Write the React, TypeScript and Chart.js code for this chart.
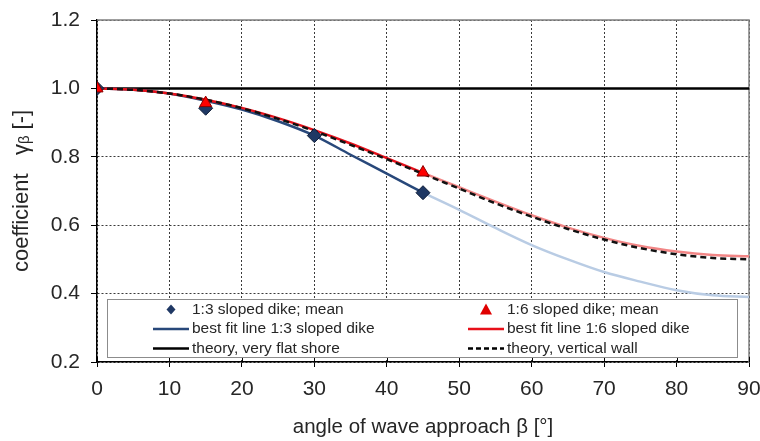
import React, { useEffect, useRef } from 'react';
import { Chart, registerables } from 'chart.js';
Chart.register(...registerables);

const xTicks = [0, 10, 20, 30, 40, 50, 60, 70, 80, 90];
const yTicks = [0.2, 0.4, 0.6, 0.8, 1.0, 1.2];

const meanAngles13 = [0, 15, 30, 45];
const meanValues13 = [1.0, 0.942, 0.862, 0.695];
const meanAngles16 = [0, 15, 45];
const meanValues16 = [1.0, 0.957, 0.754];

const fitAnglesA = [0, 5, 10, 15, 20, 25, 30, 35, 40, 45];
const fitAnglesB = [45, 50, 55, 60, 65, 70, 75, 80, 85, 90];
const fit13A = [1.0, 0.996, 0.985, 0.964, 0.938, 0.904, 0.862, 0.806, 0.751, 0.695];
const fit13B = [0.695, 0.645, 0.592, 0.542, 0.5, 0.463, 0.435, 0.41, 0.395, 0.39];
const fit16A = [1.0, 0.996, 0.985, 0.967, 0.943, 0.913, 0.878, 0.839, 0.796, 0.753];
const fit16B = [0.753, 0.711, 0.669, 0.629, 0.593, 0.563, 0.539, 0.523, 0.513, 0.509];

const wallAngles = [0, 5, 10, 15, 20, 25, 30, 35, 40, 45, 50, 55, 60, 65, 70, 75, 80, 85, 90];
const wallValues = [1.0, 0.996, 0.985, 0.967, 0.942, 0.911, 0.875, 0.835, 0.793, 0.75, 0.707, 0.664, 0.625, 0.589, 0.558, 0.533, 0.515, 0.504, 0.5];

const flatAngles = [0, 90];
const flatValues = [1.0, 1.0];

const labels = {
  mean13: '1:3 sloped dike; mean',
  mean16: '1:6 sloped dike; mean',
  fit13: 'best fit line 1:3 sloped dike',
  fit16: 'best fit line 1:6 sloped dike',
  flat: 'theory, very flat shore',
  wall: 'theory, vertical wall',
};

const xTitle = 'angle of wave approach β [°]';
const yTitle = 'coefficient   γᵦ [-]';

const FONT = "'Liberation Sans', Arial, sans-serif";
const TEXT = '#262626';
const DARK_BLUE = '#28487a';
const LIGHT_BLUE = '#b9cce4';
const RED = '#e8101a';
const LIGHT_RED = '#f28686';
const NAVY = '#1f3864';

const zip = (xs: number[], ys: number[]) => xs.map((x, i) => ({ x, y: ys[i] }));

const framePlugin = {
  id: 'frame',
  beforeDatasetsDraw(chart: any) {
    const { ctx, chartArea: a } = chart;
    ctx.save();
    ctx.strokeStyle = '#808080';
    ctx.lineWidth = 1.5;
    ctx.beginPath();
    ctx.moveTo(a.left, a.top);
    ctx.lineTo(a.right, a.top);
    ctx.lineTo(a.right, a.bottom);
    ctx.stroke();
    ctx.strokeStyle = '#000';
    ctx.lineWidth = 1;
    const xs = chart.scales.x;
    xTicks.forEach((t) => {
      const px = Math.round(xs.getPixelForValue(t)) + 0.5;
      ctx.beginPath();
      ctx.moveTo(px, a.bottom);
      ctx.lineTo(px, a.bottom - 5);
      ctx.stroke();
    });
    ctx.restore();
  },
};

const legendPlugin = {
  id: 'boxLegend',
  afterDatasetsDraw(chart: any) {
    const { ctx, chartArea: a } = chart;
    const left = a.left + 10;
    const right = a.right - 12;
    const top = a.bottom - 63;
    const bottom = a.bottom - 5;
    ctx.save();
    ctx.fillStyle = '#fff';
    ctx.fillRect(left, top, right - left, bottom - top);
    ctx.strokeStyle = '#8c8c8c';
    ctx.lineWidth = 1;
    ctx.strokeRect(left + 0.5, top + 0.5, right - left, bottom - top);

    ctx.font = `15.5px ${FONT}`;
    ctx.fillStyle = TEXT;
    ctx.textBaseline = 'middle';
    ctx.textAlign = 'left';
    const rows = [top + 10.5, top + 30, top + 49.5];
    const cols = [a.left + 56, a.left + 371];
    const lineLen = 36;

    const drawLineSym = (cx: number, cy: number, color: string, dash: number[]) => {
      ctx.save();
      ctx.strokeStyle = color;
      ctx.lineWidth = 2.5;
      ctx.setLineDash(dash);
      ctx.beginPath();
      ctx.moveTo(cx, cy);
      ctx.lineTo(cx + lineLen, cy);
      ctx.stroke();
      ctx.restore();
    };
    const diamond = (cx: number, cy: number) => {
      ctx.save();
      ctx.fillStyle = NAVY;
      ctx.beginPath();
      ctx.moveTo(cx, cy - 5);
      ctx.lineTo(cx + 4.5, cy);
      ctx.lineTo(cx, cy + 5);
      ctx.lineTo(cx - 4.5, cy);
      ctx.closePath();
      ctx.fill();
      ctx.restore();
    };
    const triangle = (cx: number, cy: number) => {
      ctx.save();
      ctx.fillStyle = '#e00000';
      ctx.beginPath();
      ctx.moveTo(cx, cy - 6);
      ctx.lineTo(cx + 6, cy + 5);
      ctx.lineTo(cx - 6, cy + 5);
      ctx.closePath();
      ctx.fill();
      ctx.restore();
    };

    const c0 = cols[0];
    const c1 = cols[1];
    diamond(c0 + lineLen / 2, rows[0]);
    ctx.fillText(labels.mean13, c0 + lineLen + 3, rows[0]);
    drawLineSym(c0, rows[1], DARK_BLUE, []);
    ctx.fillText(labels.fit13, c0 + lineLen + 3, rows[1]);
    drawLineSym(c0, rows[2], '#000', []);
    ctx.fillText(labels.flat, c0 + lineLen + 3, rows[2]);

    triangle(c1 + lineLen / 2, rows[0]);
    ctx.fillText(labels.mean16, c1 + lineLen + 3, rows[0]);
    drawLineSym(c1, rows[1], RED, []);
    ctx.fillText(labels.fit16, c1 + lineLen + 3, rows[1]);
    drawLineSym(c1, rows[2], '#000', [5, 3]);
    ctx.fillText(labels.wall, c1 + lineLen + 3, rows[2]);
    ctx.restore();
  },
};

export default function App() {
  const ref = useRef<HTMLCanvasElement | null>(null);
  useEffect(() => {
    document.body.style.margin = '0';
    const canvas = ref.current;
    if (!canvas) return;
    const lineDs = (label: string, xs: number[], ys: number[], color: string, extra: any = {}) => ({
      type: 'line',
      label,
      data: zip(xs, ys),
      borderColor: color,
      backgroundColor: color,
      borderWidth: 2.5,
      pointRadius: 0,
      tension: 0.4,
      cubicInterpolationMode: 'monotone',
      fill: false,
      ...extra,
    });
    const chart = new Chart(canvas, {
      type: 'line',
      data: {
        datasets: [
          {
            type: 'line',
            label: labels.mean16,
            data: zip(meanAngles16, meanValues16),
            showLine: false,
            pointStyle: 'triangle',
            pointRadius: 7,
            backgroundColor: '#ff0000',
            borderColor: '#8a0000',
            borderWidth: 1,
          },
          {
            type: 'line',
            label: labels.mean13,
            data: zip(meanAngles13, meanValues13),
            showLine: false,
            pointStyle: 'rectRot',
            pointRadius: 7,
            backgroundColor: NAVY,
            borderColor: '#0e1c36',
            borderWidth: 1,
          },
          lineDs(labels.wall, wallAngles, wallValues, '#111', { borderDash: [6, 4] }),
          lineDs(labels.fit16, fitAnglesA, fit16A, RED),
          lineDs(labels.fit16 + ' (extrapolated)', fitAnglesB, fit16B, LIGHT_RED),
          lineDs(labels.fit13, fitAnglesA, fit13A, DARK_BLUE),
          lineDs(labels.fit13 + ' (extrapolated)', fitAnglesB, fit13B, LIGHT_BLUE),
          lineDs(labels.flat, flatAngles, flatValues, '#000', { borderWidth: 2.5, tension: 0 }),
        ] as any,
      },
      options: {
        animation: false,
        responsive: true,
        maintainAspectRatio: false,
        layout: { padding: { left: 0, right: 11, top: 20, bottom: 0 } },
        plugins: { legend: { display: false }, tooltip: { enabled: false } },
        scales: {
          x: {
            type: 'linear',
            min: 0,
            max: 90,
            afterBuildTicks: (s: any) => { s.ticks = xTicks.map((v) => ({ value: v })); },
            afterFit: (s: any) => { s.height = 79; s.paddingLeft = 0; s.paddingRight = 0; },
            ticks: {
              font: { family: FONT, size: 21 },
              color: TEXT,
              padding: 10,
              maxRotation: 0,
              callback: (v: any) => String(v),
            },
            grid: { color: '#3a3a3a', lineWidth: 1, tickLength: 5, tickColor: '#000' },
            border: { display: true, color: '#000', width: 1.5, dash: [2, 2] },
            title: {
              display: true,
              text: xTitle,
              font: { family: FONT, size: 20.5 },
              color: TEXT,
              padding: { top: 0, bottom: 1 },
            },
          },
          y: {
            type: 'linear',
            min: 0.2,
            max: 1.2,
            afterBuildTicks: (s: any) => { s.ticks = yTicks.map((v) => ({ value: v })); },
            afterFit: (s: any) => { s.width = 97; s.paddingTop = 0; s.paddingBottom = 0; },
            ticks: {
              font: { family: FONT, size: 21 },
              color: TEXT,
              padding: 11,
              callback: (v: any) => Number(v).toFixed(1),
            },
            grid: { color: '#3a3a3a', lineWidth: 1, tickLength: 6, tickColor: '#000' },
            border: { display: true, color: '#000', width: 1.5, dash: [2, 2] },
            title: {
              display: true,
              text: yTitle,
              font: { family: FONT, size: 22 },
              color: TEXT,
              padding: { top: 9, bottom: 0 },
            },
          },
        },
      } as any,
      plugins: [framePlugin, legendPlugin],
    });
    return () => chart.destroy();
  }, []);
  return (
    <div style={{ position: 'relative', width: 760, height: 441, background: '#fff' }}>
      <canvas ref={ref} />
    </div>
  );
}
